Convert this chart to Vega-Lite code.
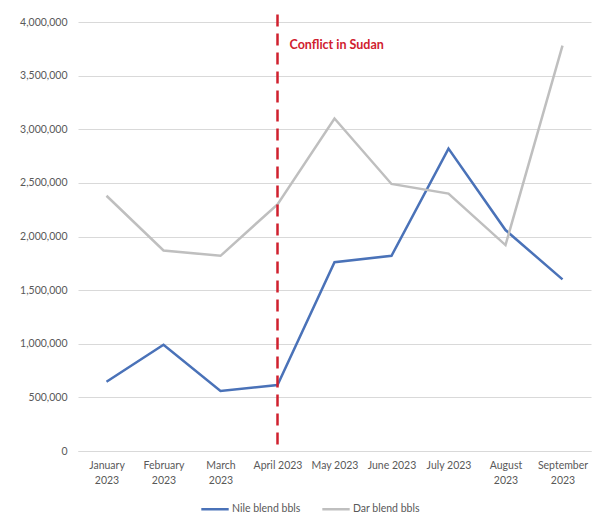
{
  "$schema": "https://vega.github.io/schema/vega-lite/v6.json",
  "width": 513,
  "height": 429,
  "autosize": "none",
  "padding": {"left": 78, "top": 22, "right": 5, "bottom": 74},
  "background": "white",
  "config": {
    "view": {"stroke": null},
    "font": "Lato",
    "axis": {"labelFont": "Lato", "labelColor": "#595959", "labelFontSize": 10.5, "ticks": false, "domain": false, "gridColor": "#D9D9D9", "gridWidth": 1, "title": null},
    "legend": {"labelFont": "Lato", "labelColor": "#595959", "labelFontSize": 10.5}
  },
  "datasets": {
    "series": [
      {"month": "January|2023", "series": "Nile blend bbls", "bbls": 645000},
      {"month": "February|2023", "series": "Nile blend bbls", "bbls": 990000},
      {"month": "March|2023", "series": "Nile blend bbls", "bbls": 560000},
      {"month": "April 2023", "series": "Nile blend bbls", "bbls": 615000},
      {"month": "May 2023", "series": "Nile blend bbls", "bbls": 1760000},
      {"month": "June 2023", "series": "Nile blend bbls", "bbls": 1820000},
      {"month": "July 2023", "series": "Nile blend bbls", "bbls": 2820000},
      {"month": "August|2023", "series": "Nile blend bbls", "bbls": 2060000},
      {"month": "September|2023", "series": "Nile blend bbls", "bbls": 1600000},
      {"month": "January|2023", "series": "Dar blend bbls", "bbls": 2380000},
      {"month": "February|2023", "series": "Dar blend bbls", "bbls": 1870000},
      {"month": "March|2023", "series": "Dar blend bbls", "bbls": 1820000},
      {"month": "April 2023", "series": "Dar blend bbls", "bbls": 2300000},
      {"month": "May 2023", "series": "Dar blend bbls", "bbls": 3100000},
      {"month": "June 2023", "series": "Dar blend bbls", "bbls": 2490000},
      {"month": "July 2023", "series": "Dar blend bbls", "bbls": 2400000},
      {"month": "August|2023", "series": "Dar blend bbls", "bbls": 1920000},
      {"month": "September|2023", "series": "Dar blend bbls", "bbls": 3780000}
    ],
    "event": [
      {"month": "April 2023", "top": 4070000, "bottom": 0, "label": "Conflict in Sudan", "labelY": 3790000}
    ]
  },
  "layer": [
    {
      "data": {"name": "series"},
      "mark": {"type": "line", "strokeWidth": 2.5},
      "encoding": {
        "x": {
          "field": "month", "type": "ordinal", "sort": null,
          "scale": {"type": "point", "padding": 0.5},
          "axis": {"labelAngle": 0, "labelExpr": "split(datum.value, '|')", "labelPadding": 9, "labelLineHeight": 15, "labelBaseline": "top", "domain": true, "domainColor": "#D9D9D9"}
        },
        "y": {
          "field": "bbls", "type": "quantitative",
          "scale": {"domain": [0, 4000000], "nice": false},
          "axis": {"values": [0, 500000, 1000000, 1500000, 2000000, 2500000, 3000000, 3500000, 4000000], "labelExpr": "format(datum.value, ',')", "labelPadding": 11}
        },
        "color": {
          "field": "series", "type": "nominal",
          "scale": {"domain": ["Nile blend bbls", "Dar blend bbls"], "range": ["#4A72B8", "#BFBFBF"]},
          "legend": {"orient": "none", "legendX": 122, "legendY": 472, "direction": "horizontal", "title": null, "symbolType": "stroke", "symbolSize": 750, "symbolStrokeWidth": 2.5, "columnPadding": 16, "labelOffset": 2}
        }
      }
    },
    {
      "data": {"name": "event"},
      "mark": {"type": "rule", "color": "#D0202E", "strokeWidth": 2.5, "strokeDash": [12, 7]},
      "encoding": {
        "x": {"field": "month", "type": "ordinal", "sort": null},
        "y": {"field": "top", "type": "quantitative"},
        "y2": {"field": "bottom"}
      }
    },
    {
      "data": {"name": "event"},
      "mark": {"type": "text", "color": "#D0202E", "fontSize": 12.5, "fontWeight": "bold", "align": "left", "baseline": "middle", "dx": 12},
      "encoding": {
        "x": {"field": "month", "type": "ordinal", "sort": null},
        "y": {"field": "labelY", "type": "quantitative"},
        "text": {"field": "label"}
      }
    }
  ]
}
